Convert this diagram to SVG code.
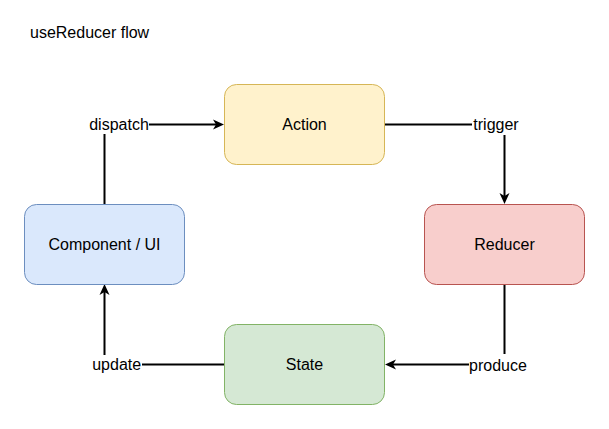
<svg xmlns="http://www.w3.org/2000/svg" width="609" height="429" viewBox="0 0 609 429">
<style>
text{font-family:"Liberation Sans",Helvetica,Arial,sans-serif;font-size:16px;fill:#000}
.n{stroke-width:1}
.c{fill:none;stroke:#000;stroke-width:2}
.lb{fill:#fff}
.m{text-anchor:middle}
</style>
<defs>
<marker id="arr" markerUnits="userSpaceOnUse" markerWidth="14" markerHeight="14" viewBox="-12 -7 14 14" refX="-8" refY="0" orient="auto">
<path d="M0,0 L-11,-5 L-8,0 L-11,5 Z" fill="#000"/>
</marker>
</defs>
<rect width="609" height="429" fill="#fff"/>
<text x="30" y="38">useReducer flow</text>
<g id="connectors">
<path class="c" d="M104.5,204 V124.5 H216" marker-end="url(#arr)"/>
<path class="c" d="M384.5,124.5 H504.5 V196" marker-end="url(#arr)"/>
<path class="c" d="M504.5,284.5 V364.5 H393" marker-end="url(#arr)"/>
<path class="c" d="M224,364.5 H104.5 V292" marker-end="url(#arr)"/>
<g id="label-dispatch"><rect class="lb" x="89" y="114" width="60" height="20"/><text class="m" x="119" y="129.6">dispatch</text></g>
<g id="label-trigger"><rect class="lb" x="472" y="114" width="48" height="21"/><text class="m" x="496" y="129.6">trigger</text></g>
<g id="label-produce"><rect class="lb" x="469" y="354" width="59" height="20"/><text class="m" x="498" y="370.5">produce</text></g>
<g id="label-update"><rect class="lb" x="91" y="355" width="51" height="19"/><text class="m" x="116.7" y="369.8">update</text></g>
</g>
<g id="node-action"><rect class="n" x="224.5" y="84.5" width="160" height="80" rx="12" fill="#fff2cc" stroke="#d6b656"/><text class="m" x="304.5" y="130">Action</text></g>
<g id="node-reducer"><rect class="n" x="424.5" y="204.5" width="160" height="80" rx="12" fill="#f8cecc" stroke="#b85450"/><text class="m" x="504.5" y="250">Reducer</text></g>
<g id="node-state"><rect class="n" x="224.5" y="324.5" width="160" height="80" rx="12" fill="#d5e8d4" stroke="#82b366"/><text class="m" x="304.5" y="370">State</text></g>
<g id="node-component"><rect class="n" x="24.5" y="204.5" width="160" height="80" rx="12" fill="#dae8fc" stroke="#6c8ebf"/><text class="m" x="104.5" y="250">Component / UI</text></g>
</svg>
